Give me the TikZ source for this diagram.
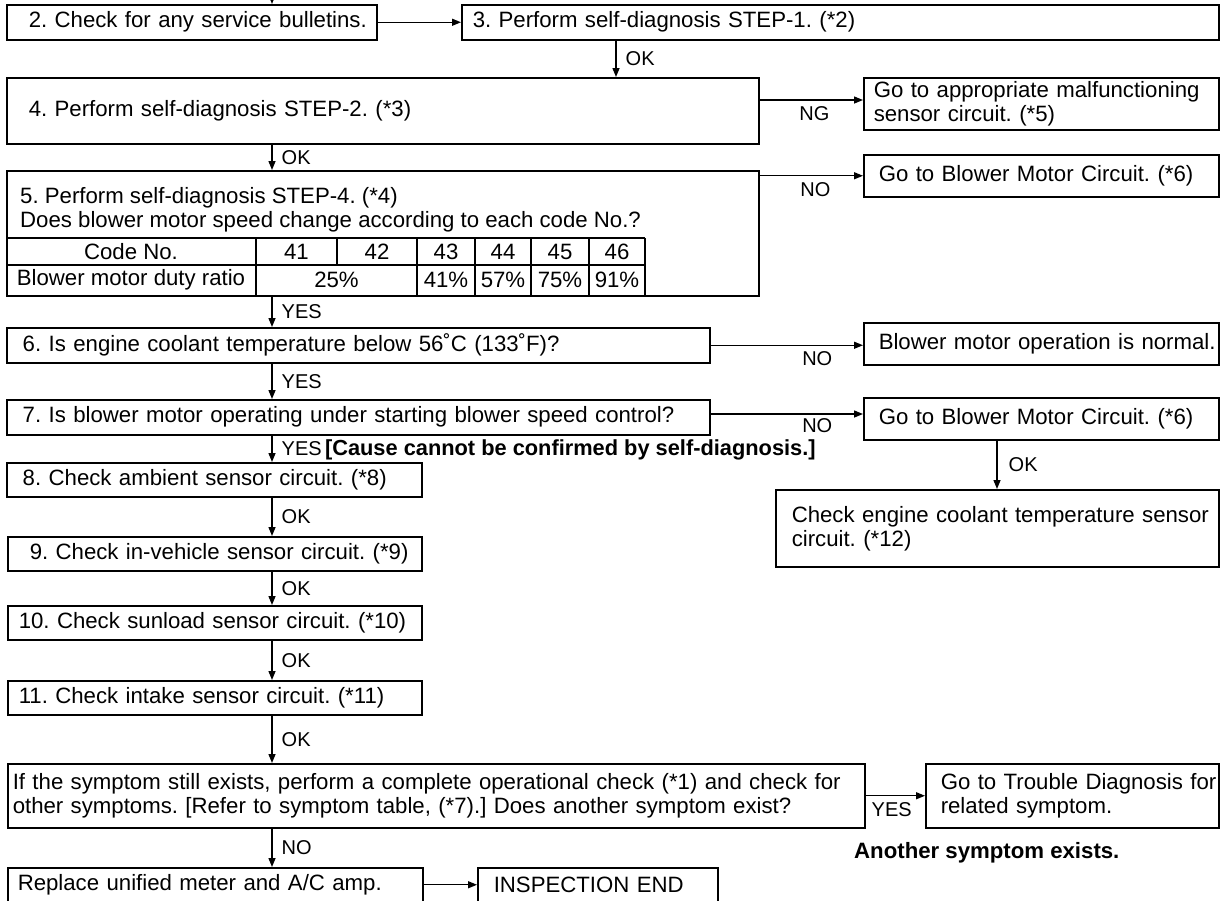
\documentclass[tikz,border=0pt]{standalone}
\usepackage{fontspec}
\setmainfont{Liberation Sans}
\usetikzlibrary{arrows.meta}
\newcommand\oneln[1]{\mbox{#1}}
\newcommand\mainsize{\fontsize{22.2}{24}\selectfont}
\frenchspacing
\begin{document}
\frenchspacing
\begin{tikzpicture}[x=1pt,y=-1pt,
  bx/.style={draw, line width=1.5pt, anchor=north west, inner ysep=0pt, align=left, font=\mainsize},
  lbl/.style={font=\fontsize{20}{22}\selectfont, inner sep=0pt},
  arr/.style={line width=1.4pt, -{Triangle[length=9pt,width=7pt]}},
  cell/.style={font=\mainsize, inner sep=0pt},
  grid/.style={line width=1.2pt}]
\useasboundingbox (0,0) rectangle (1221,900);
\clip (0,0) rectangle (1221,900);

% boxes
\node[bx, minimum width=370pt, minimum height=35pt, text width=326pt, inner xsep=22pt] (b2) at (6,4) {\oneln{2. Check for any service bulletins.}};
\node[bx, minimum width=757pt, minimum height=35pt, text width=735pt, inner xsep=11pt] (b3) at (461,4) {\oneln{3. Perform self-diagnosis STEP-1. (*2)}};
\node[bx, minimum width=752pt, minimum height=66pt, text width=708pt, inner xsep=22pt] (b4) at (6,77) {\oneln{4. Perform self-diagnosis STEP-2. (*3)}};
\node[bx, minimum width=355pt, minimum height=52pt, text width=335pt, inner xsep=10pt] (bNG) at (863,77) {\oneln{Go to appropriate malfunctioning}\\\oneln{sensor circuit. (*5)}};
\node[bx, minimum width=752pt, minimum height=125pt] (b5) at (6,170) {};
\node[bx, minimum width=355pt, minimum height=42pt, text width=325pt, inner xsep=15pt] (bBM1) at (863,154) {\oneln{Go to Blower Motor Circuit. (*6)}};
\node[bx, minimum width=703pt, minimum height=35pt, text width=671pt, inner xsep=16pt] (b6) at (6,327) {\oneln{6. Is engine coolant temperature below 56˚C (133˚F)?}};
\node[bx, minimum width=355pt, minimum height=42pt, text width=325pt, inner xsep=15pt] (bNorm) at (863,322) {\oneln{Blower motor operation is normal.}};
\node[bx, minimum width=703pt, minimum height=35pt, text width=671pt, inner xsep=16pt] (b7) at (6,399) {\oneln{7. Is blower motor operating under starting blower speed control?}};
\node[bx, minimum width=355pt, minimum height=42pt, text width=325pt, inner xsep=15pt] (bBM2) at (863,397) {\oneln{Go to Blower Motor Circuit. (*6)}};
\node[bx, minimum width=443pt, minimum height=77pt, text width=411pt, inner xsep=16pt] (bEng) at (775,489) {\oneln{Check engine coolant temperature sensor}\\\oneln{circuit. (*12)}};
\node[bx, minimum width=415pt, minimum height=34pt, text width=383pt, inner xsep=16pt] (b8) at (6,462) {\oneln{8. Check ambient sensor circuit. (*8)}};
\node[bx, minimum width=414pt, minimum height=34pt, text width=370pt, inner xsep=22pt] (b9) at (7,536) {\oneln{9. Check in-vehicle sensor circuit. (*9)}};
\node[bx, minimum width=414pt, minimum height=34pt, text width=392pt, inner xsep=11pt] (b10) at (7,605) {\oneln{10. Check sunload sensor circuit. (*10)}};
\node[bx, minimum width=414pt, minimum height=34pt, text width=392pt, inner xsep=11pt] (b11) at (7,680) {\oneln{11. Check intake sensor circuit. (*11)}};
\node[bx, minimum width=857pt, minimum height=64pt, text width=847pt, inner xsep=5pt] (bBig) at (7,763) {\oneln{If the symptom still exists, perform a complete operational check (*1) and check for}\\\oneln{other symptoms. [Refer to symptom table, (*7).] Does another symptom exist?}};
\node[bx, minimum width=293pt, minimum height=64pt, text width=263pt, inner xsep=15pt] (bTrouble) at (925,763) {\oneln{Go to Trouble Diagnosis for}\\\oneln{related symptom.}};
\node[bx, minimum width=415pt, minimum height=34pt, text width=395pt, inner xsep=10pt] (bRep) at (7,867) {\oneln{Replace unified meter and A/C amp.}};
\node[bx, minimum width=240pt, minimum height=34pt, text width=208pt, inner xsep=16pt] (bEnd) at (477,867) {\oneln{INSPECTION END}};

% box 5 contents
\node[cell, anchor=west, align=left] (t5) at (20,210) {5. Perform self-diagnosis STEP-4. (*4)\\Does blower motor speed change according to each code No.?};
\draw[grid] (6,238) -- (645,238);
\draw[grid] (6,265) -- (645,265);
\draw[grid] (256,238) -- (256,295);
\draw[grid] (337,238) -- (337,265);
\draw[grid] (417,238) -- (417,295);
\draw[grid] (475,238) -- (475,295);
\draw[grid] (531,238) -- (531,295);
\draw[grid] (589,238) -- (589,295);
\draw[grid] (645,238) -- (645,295);
\node[cell] (hcode) at (131,251.5) {Code No.};
\node[cell] (h41) at (296.5,251.5) {41};
\node[cell] (h42) at (377,251.5) {42};
\node[cell] (h43) at (446,251.5) {43};
\node[cell] (h44) at (503,251.5) {44};
\node[cell] (h45) at (560,251.5) {45};
\node[cell] (h46) at (617,251.5) {46};
\node[cell] (dname) at (131,280) {Blower motor duty ratio};
\node[cell] (d25) at (336.5,280) {25\%};
\node[cell] (d41) at (446,280) {41\%};
\node[cell] (d57) at (503,280) {57\%};
\node[cell] (d75) at (560,280) {75\%};
\node[cell] (d91) at (617,280) {91\%};

% connectors
\coordinate (mc) at (272,0);
\coordinate (c3) at (616,0);
\coordinate (cE) at (997,0);
\coordinate (top) at (272,-12);
\coordinate (ng) at (0,100);
\coordinate (n7) at (0,414);
\draw[arr] (top) -- (top |- b2.north);
\draw[arr] (b2.east) -- (b3.west);
\draw[arr] (b3.south -| c3) -- node[lbl, right, xshift=9pt] (l1) {OK} (b4.north -| c3);
\draw[arr] (b4.east |- ng) -- node[lbl, below=6pt, pos=0.53] (l2) {NG} (bNG.west |- ng);
\draw[arr] (b4.south -| mc) -- node[lbl, right, xshift=9pt] (l3) {OK} (b5.north -| mc);
\draw[arr] (b5.east |- bBM1.west) -- node[lbl, below=6pt, pos=0.54] (l4) {NO} (bBM1.west);
\draw[arr] (b5.south -| mc) -- node[lbl, right, xshift=9pt] (l5) {YES} (b6.north -| mc);
\draw[arr] (b6.east) -- node[lbl, below=6pt, pos=0.70] (l6) {NO} (b6.east -| bNorm.west);
\draw[arr] (b6.south -| mc) -- node[lbl, right, xshift=9pt] (l7) {YES} (b7.north -| mc);
\draw[arr] (b7.east |- n7) -- node[lbl, below=4pt, pos=0.70] (l8) {NO} (bBM2.west |- n7);
\draw[arr] (b7.south -| mc) -- node[lbl, right, xshift=9pt, yshift=-1pt] (l9) {YES\,{\bfseries\fontsize{21.8}{24}\selectfont[Cause cannot be confirmed by self-diagnosis.]}} (b8.north -| mc);
\draw[arr] (bBM2.south -| cE) -- node[lbl, right, xshift=11pt] (l10) {OK} (bEng.north -| cE);
\draw[arr] (b8.south -| mc) -- node[lbl, right, xshift=9pt] (l11) {OK} (b9.north -| mc);
\draw[arr] (b9.south -| mc) -- node[lbl, right, xshift=9pt] (l12) {OK} (b10.north -| mc);
\draw[arr] (b10.south -| mc) -- node[lbl, right, xshift=9pt] (l13) {OK} (b11.north -| mc);
\draw[arr] (b11.south -| mc) -- node[lbl, right, xshift=9pt] (l14) {OK} (bBig.north -| mc);
\draw[arr] (bBig.east) -- node[lbl, below=6pt, pos=0.44] (l15) {YES} (bBig.east -| bTrouble.west);
\draw[arr] (bBig.south -| mc) -- node[lbl, right, xshift=9pt] (l16) {NO} (bRep.north -| mc);
\draw[arr] (bRep.east) -- (bEnd.west);

\node[anchor=west, inner sep=0pt, font=\bfseries\mainsize] (another) at (854,853) {Another symptom exists.};
\end{tikzpicture}
\end{document}
